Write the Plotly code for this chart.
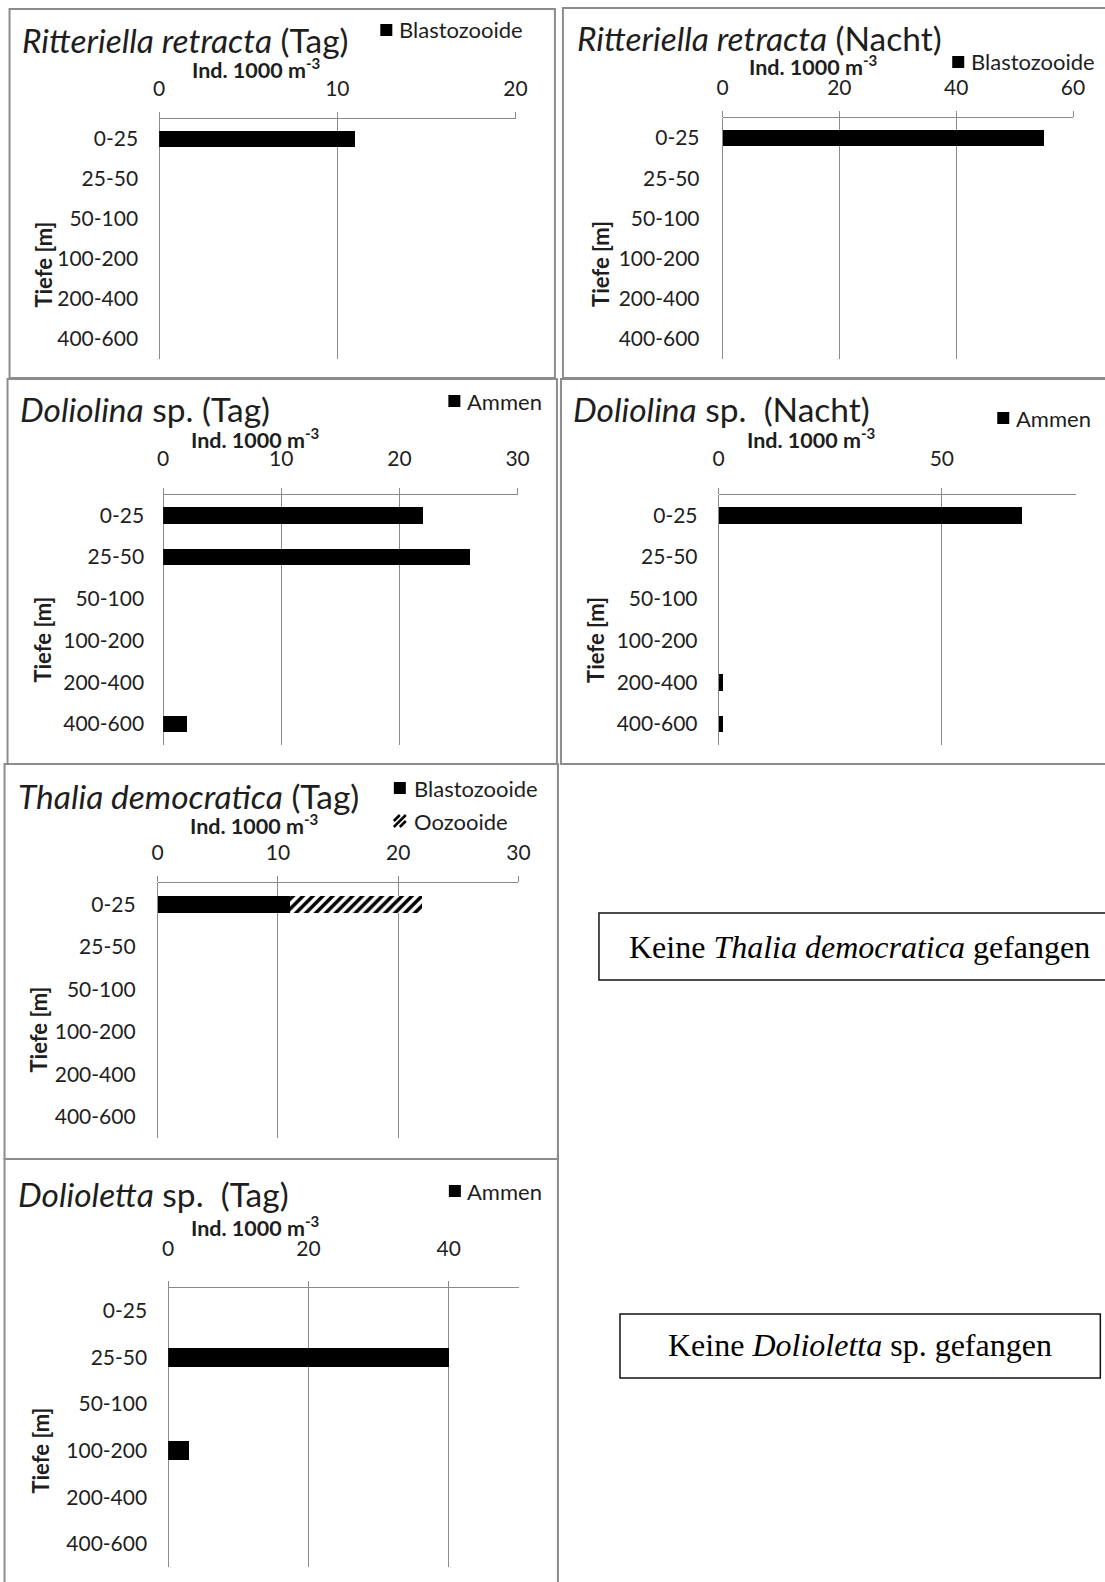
import plotly.graph_objects as go

W, H = 1105, 1582

# ---------------- data ----------------
depths = ["0-25", "25-50", "50-100", "100-200", "200-400", "400-600"]

ritteriella_tag_blasto = [11, 0, 0, 0, 0, 0]
ritteriella_nacht_blasto = [55, 0, 0, 0, 0, 0]
doliolina_tag_ammen = [22, 26, 0, 0, 0, 2]
doliolina_nacht_ammen = [68, 0, 0, 0, 1, 1]
thalia_tag_blasto = [11, 0, 0, 0, 0, 0]
thalia_tag_oozo = [11, 0, 0, 0, 0, 0]
dolioletta_tag_ammen = [0, 40, 0, 3, 0, 0]

titles = [
    "<i>Ritteriella retracta</i> (Tag)",
    "<i>Ritteriella retracta</i> (Nacht)",
    "<i>Doliolina</i> sp. (Tag)",
    "<i>Doliolina</i> sp.\u00a0 (Nacht)",
    "<i>Thalia democratica</i> (Tag)",
    "<i>Dolioletta</i> sp.\u00a0 (Tag)",
]
x_label = "<b>Ind. 1000 m<sup>-3</sup></b>"
y_label = "<b>Tiefe [m]</b>"
x_max = [20, 60, 30, 80, 30, 50]
x_dtick = [10, 20, 10, 50, 10, 20]
empty_notes = [
    "Keine <i>Thalia democratica</i> gefangen",
    "Keine <i>Dolioletta</i> sp. gefangen",
]

# each panel: list of (values, legend name, style)
series = [
    [(ritteriella_tag_blasto, "Blastozooide", "solid")],
    [(ritteriella_nacht_blasto, "Blastozooide", "solid")],
    [(doliolina_tag_ammen, "Ammen", "solid")],
    [(doliolina_nacht_ammen, "Ammen", "solid")],
    [(thalia_tag_blasto, "Blastozooide", "solid"), (thalia_tag_oozo, "Oozooide", "hatch")],
    [(dolioletta_tag_ammen, "Ammen", "solid")],
]

# ---------------- layout geometry (target pixels) ----------------
layout_px = [
    dict(frame=(10, 9, 555, 378), ax=(159.5, 515.6, 119, 359), tick_y=89, title=(20, 40),
         legend=[(386.5, 30, 397)], ind=(257, 68), ytitle=(44, 265), lab_right=137),
    dict(frame=(563, 8, 1112, 378), ax=(722.5, 1072.7, 118, 359), tick_y=87, title=(575, 38),
         legend=[(958, 62, 969)], ind=(813, 66), ytitle=(600, 264), lab_right=698),
    dict(frame=(8, 379, 557, 764), ax=(163.5, 517.7, 494.5, 745), tick_y=459, title=(18, 409),
         legend=[(454.5, 401, 465)], ind=(256, 439), ytitle=(42, 640), lab_right=142),
    dict(frame=(561, 379, 1112, 764), ax=(718.5, 1075.5, 494.5, 745), tick_y=459, title=(571, 409),
         legend=[(1003, 418, 1014)], ind=(811, 439), ytitle=(595, 640), lab_right=696),
    dict(frame=(5, 764, 558, 1159), ax=(158, 518.5, 883, 1138), tick_y=853, title=(16, 796),
         legend=[(400, 788, 412), (400, 821, 412)], ind=(255, 824), ytitle=(38, 1030), lab_right=134),
    dict(frame=(5, 1159, 558, 1590), ax=(168.5, 519, 1287.6, 1567), tick_y=1249, title=(16, 1194),
         legend=[(455, 1191, 465)], ind=(256, 1226), ytitle=(40, 1451), lab_right=146),
]
boxes_px = [
    dict(rect=(599, 913, 1112, 980), center=(859, 947)),
    dict(rect=(620, 1314, 1100, 1378), center=(860, 1345)),
]

FONT = "Lato"
TXT = "#1e1e1e"
GRID = "#8a8a8a"
FRAME = "#8c8c8c"
TICK_SIZE = 21
TITLE_SIZE = 33.5
LEG_SIZE = 22
LAB_SIZE = 21.5
YLAB_SIZE = 22

# horizontal correction for the rendered viewport (measured offset / scale)
X_OFF, X_SCALE = 6.46, 0.983


def X(px):
    return ((px - X_OFF) / X_SCALE) / W


def Y(py):
    return 1 - py / H


fig = go.Figure()
shapes = []
annotations = []

for i, (spec, ser) in enumerate(zip(layout_px, series)):
    n = i + 1
    xa = "x" if n == 1 else f"x{n}"
    ya = "y" if n == 1 else f"y{n}"
    xkey = "xaxis" if n == 1 else f"xaxis{n}"
    ykey = "yaxis" if n == 1 else f"yaxis{n}"
    x0, x1, ytop, ybot = spec["ax"]

    for vals, name, style in ser:
        if style == "solid":
            marker = dict(color="black", line=dict(width=0))
        else:
            marker = dict(color="white", line=dict(width=0),
                          pattern=dict(shape="/", fgcolor="black", bgcolor="white",
                                       size=7, solidity=0.5, fillmode="replace"))
        fig.add_trace(go.Bar(x=vals, y=depths, orientation="h", name=name,
                             marker=marker, xaxis=xa, yaxis=ya, showlegend=False))

    gap = spec["ax"][2] - spec["tick_y"]
    fig.layout[xkey] = dict(
        domain=[X(x0), X(x1)], anchor=ya, side="top",
        range=[0, x_max[i]], tick0=0, dtick=x_dtick[i],
        showgrid=True, gridcolor=GRID, gridwidth=1,
        zeroline=True, zerolinecolor=GRID, zerolinewidth=1,
        showline=True, linecolor=GRID, linewidth=1,
        ticks="outside", ticklen=6, tickcolor=GRID, tickwidth=1,
        ticklabelstandoff=int(round(max(0, gap - 6 - TICK_SIZE * 0.5 - 6))),
        tickfont=dict(family=FONT, size=TICK_SIZE, color=TXT),
        fixedrange=True,
    )
    fig.layout[ykey] = dict(
        domain=[Y(ybot), Y(ytop)], anchor=xa,
        type="category", categoryorder="array", categoryarray=depths,
        range=[5.5, -0.5],
        showgrid=False, zeroline=False, showline=False, ticks="",
        ticklabelstandoff=int(round(max(0, x0 - spec["lab_right"] - 3))),
        tickfont=dict(family=FONT, size=TICK_SIZE, color=TXT),
        fixedrange=True,
    )

    # frame
    fx0, fy0, fx1, fy1 = spec["frame"]
    shapes.append(dict(type="rect", xref="paper", yref="paper",
                       x0=X(fx0), x1=X(fx1), y0=Y(fy1), y1=Y(fy0),
                       line=dict(color=FRAME, width=2), fillcolor="rgba(0,0,0,0)", layer="below"))
    # title
    tx, ty = spec["title"]
    annotations.append(dict(text=titles[i], x=X(tx), y=Y(ty), xref="paper", yref="paper",
                            xanchor="left", yanchor="middle", showarrow=False,
                            font=dict(family=FONT, size=TITLE_SIZE, color=TXT)))
    # x-axis label
    ix, iy = spec["ind"]
    annotations.append(dict(text=x_label, x=X(ix), y=Y(iy), xref="paper", yref="paper",
                            xanchor="center", yanchor="middle", showarrow=False,
                            font=dict(family=FONT, size=LAB_SIZE, color=TXT)))
    # y-axis label
    yx, yy = spec["ytitle"]
    annotations.append(dict(text=y_label, x=X(yx), y=Y(yy), xref="paper", yref="paper",
                            xanchor="center", yanchor="middle", showarrow=False, textangle=-90,
                            font=dict(family=FONT, size=YLAB_SIZE, color=TXT)))
    # legend
    for (cx, cy, txx), (vals, name, style) in zip(spec["legend"], ser):
        s = 6
        if style == "solid":
            shapes.append(dict(type="rect", xref="paper", yref="paper",
                               x0=X(cx - s), x1=X(cx + s), y0=Y(cy + s), y1=Y(cy - s),
                               fillcolor="black", line=dict(width=0)))
        else:
            for (ax_, ay_, bx_, by_) in [(-s, 0, 0, -s), (-s, s, s, -s), (0, s, s, 0)]:
                shapes.append(dict(type="line", xref="paper", yref="paper",
                                   x0=X(cx + ax_), y0=Y(cy + ay_), x1=X(cx + bx_), y1=Y(cy + by_),
                                   line=dict(color="black", width=2.5)))
        annotations.append(dict(text=name, x=X(txx), y=Y(cy), xref="paper", yref="paper",
                                xanchor="left", yanchor="middle", showarrow=False,
                                font=dict(family=FONT, size=LEG_SIZE, color=TXT)))

# right column separator line
shapes.append(dict(type="line", xref="paper", yref="paper",
                   x0=X(558), x1=X(558), y0=Y(1590), y1=Y(764),
                   line=dict(color=FRAME, width=2)))

for b, note in zip(boxes_px, empty_notes):
    bx0, by0, bx1, by1 = b["rect"]
    shapes.append(dict(type="rect", xref="paper", yref="paper",
                       x0=X(bx0), x1=X(bx1), y0=Y(by1), y1=Y(by0),
                       line=dict(color="#111111", width=1.5), fillcolor="white"))
    cx, cy = b["center"]
    annotations.append(dict(text=note, x=X(cx), y=Y(cy), xref="paper", yref="paper",
                            xanchor="center", yanchor="middle", showarrow=False,
                            font=dict(family="Liberation Serif", size=32, color="black")))

fig.update_layout(
    width=W, height=H,
    margin=dict(l=0, r=0, t=0, b=0),
    paper_bgcolor="white", plot_bgcolor="rgba(0,0,0,0)",
    barmode="stack", bargap=0.6,
    showlegend=False,
    shapes=shapes, annotations=annotations,
    font=dict(family=FONT, color=TXT),
)

fig.write_html(
    "out.html",
    post_script="document.body.style.margin='0px';document.documentElement.style.overflow='hidden';",
)
